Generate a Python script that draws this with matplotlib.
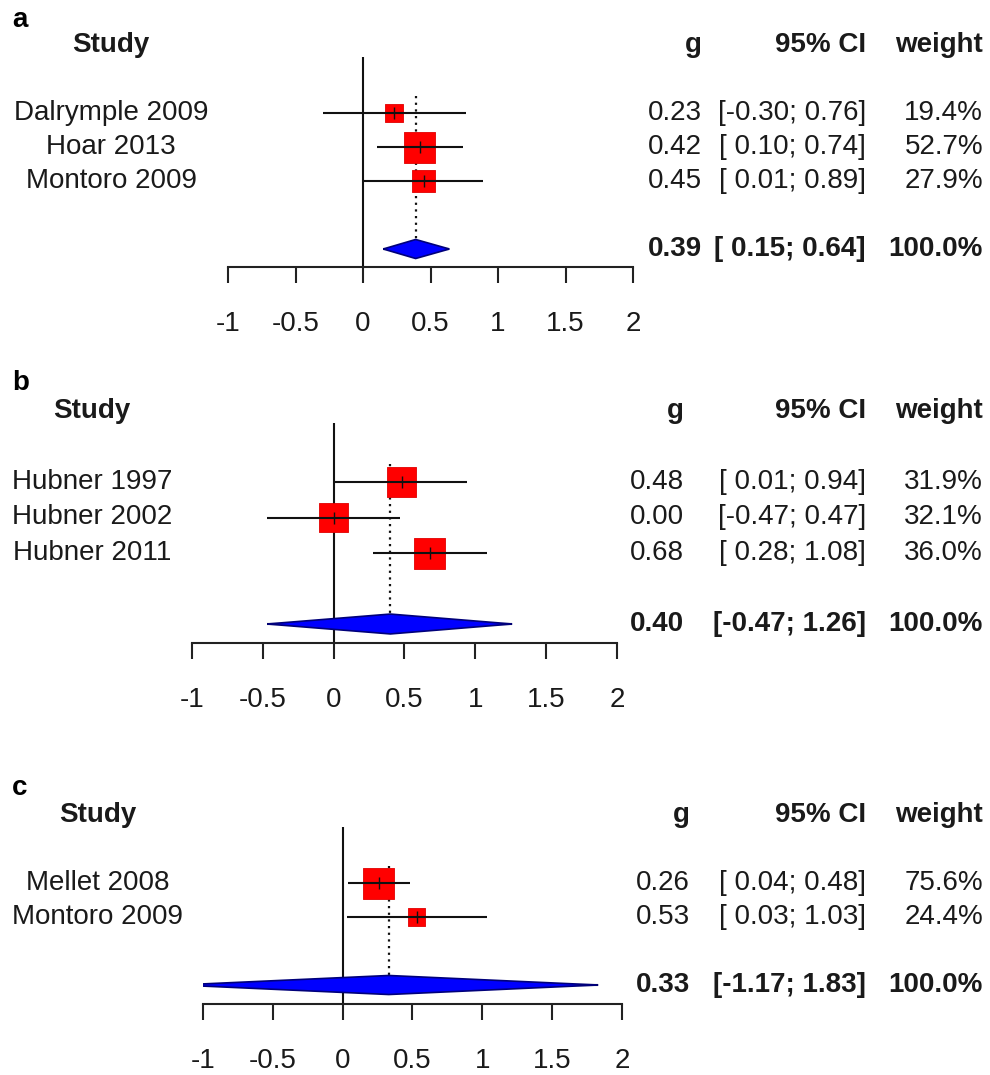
import matplotlib
matplotlib.use("Agg")
import matplotlib.pyplot as plt
from matplotlib.transforms import blended_transform_factory
from matplotlib.patches import Polygon
import numpy as np

plt.rcParams['font.family'] = ['Liberation Sans', 'DejaVu Sans']

# ---------------- data ----------------
a_studies = ["Dalrymple 2009", "Hoar 2013", "Montoro 2009"]
a_g = [0.23, 0.42, 0.45]
a_lo = [-0.30, 0.10, 0.01]
a_hi = [0.76, 0.74, 0.89]
a_w = [19.4, 52.7, 27.9]
a_sum = [0.39, 0.15, 0.64]

b_studies = ["Hubner 1997", "Hubner 2002", "Hubner 2011"]
b_g = [0.48, 0.00, 0.68]
b_lo = [0.01, -0.47, 0.28]
b_hi = [0.94, 0.47, 1.08]
b_w = [31.9, 32.1, 36.0]
b_sum = [0.40, -0.47, 1.26]

c_studies = ["Mellet 2008", "Montoro 2009"]
c_g = [0.26, 0.53]
c_lo = [0.04, 0.03]
c_hi = [0.48, 1.03]
c_w = [75.6, 24.4]
c_sum = [0.33, -1.17, 1.83]

tick_vals = [-1, -0.5, 0, 0.5, 1, 1.5, 2]
tick_labels = ["-1", "-0.5", "0", "0.5", "1", "1.5", "2"]
col_headers = ["Study", "g", "95% CI", "weight"]
panel_letters = ["a", "b", "c"]

# ---------------- layout ----------------
W, H = 990, 1075
fig = plt.figure(figsize=(W / 100, H / 100), dpi=100)
PX2PT = 0.72

panels = [
    dict(letter=panel_letters[0], studies=a_studies, g=a_g, lo=a_lo, hi=a_hi, w=a_w, s=a_sum,
         x0=228, x1=633, row1=113, sp=34.0, axis=267, letter_y=20, lab_x=111,
         g_x=702, ci_x=866, w_x=983),
    dict(letter=panel_letters[1], studies=b_studies, g=b_g, lo=b_lo, hi=b_hi, w=b_w, s=b_sum,
         x0=192, x1=617, row1=482, sp=35.5, axis=643, letter_y=383, lab_x=92,
         g_x=684, ci_x=866, w_x=983),
    dict(letter=panel_letters[2], studies=c_studies, g=c_g, lo=c_lo, hi=c_hi, w=c_w, s=c_sum,
         x0=203, x1=622, row1=883, sp=34.0, axis=1004, letter_y=788, lab_x=98,
         g_x=690, ci_x=866, w_x=983),
]

FS = 20
TXT = '#1a1a1a'
SQ_MAX_PX = 31

for P in panels:
    sp = P['sp']
    top_px = P['row1'] - 1.65 * sp
    left = P['x0'] / W
    width = (P['x1'] - P['x0']) / W
    bottom = 1 - P['axis'] / H
    height = (P['axis'] - top_px) / H
    ax = fig.add_axes([left, bottom, width, height])
    top_row = 1 + (top_px - P['row1']) / sp
    axis_row = 1 + (P['axis'] - P['row1']) / sp
    ax.set_xlim(-1, 2)
    ax.set_ylim(axis_row, top_row)
    for side in ['top', 'right', 'left']:
        ax.spines[side].set_visible(False)
    ax.spines['bottom'].set_linewidth(1.5)
    ax.spines['bottom'].set_color('#222222')
    ax.set_yticks([])
    ax.set_xticks(tick_vals)
    ax.set_xticklabels(tick_labels, fontsize=FS, color=TXT)
    ax.tick_params(axis='x', length=16 * PX2PT, width=1.5, color='#222222', pad=20)
    ax.patch.set_alpha(0)

    n = len(P['studies'])
    rows = np.arange(1, n + 1)
    srow = n + 2
    est, slo, shi = P['s']
    dh = 0.28

    # zero line
    ax.axvline(0, color='#111111', lw=1.5, zorder=1)
    # dotted summary line
    ax.plot([est, est], [0.5, srow - dh], color='#111111', lw=1.6, ls=(0, (1, 2)), zorder=2)

    # squares
    wmax = max(P['w'])
    sides = [SQ_MAX_PX * np.sqrt(wi / wmax) * PX2PT for wi in P['w']]
    ax.scatter(P['g'], rows, marker='s', s=[sd ** 2 for sd in sides], color='#ff0000',
               edgecolors='#e00000', linewidths=0.6, zorder=3)
    # CI lines
    ax.hlines(rows, P['lo'], P['hi'], color='#111111', lw=1.5, zorder=4)
    ax.plot(P['g'], rows, ls='none', marker='|', ms=9, mew=1.0, color='#111111', zorder=5)

    # summary line + diamond
    ax.hlines([srow], [slo], [shi], color='#111111', lw=1.5, zorder=3)
    dia = Polygon([[slo, srow], [est, srow - dh], [shi, srow], [est, srow + dh]],
                  closed=True, facecolor='#0000ff', edgecolor='#00007a', lw=1.2, zorder=4)
    ax.add_patch(dia)

    # text columns
    tr = blended_transform_factory(fig.transFigure, ax.transData)
    hrow = -1.0
    ax.text(P['lab_x'] / W, hrow, col_headers[0], transform=tr, ha='center', va='center',
            fontsize=FS, fontweight='bold', color=TXT, clip_on=False)
    ax.text(P['g_x'] / W, hrow, col_headers[1], transform=tr, ha='right', va='center',
            fontsize=FS, fontweight='bold', color=TXT, clip_on=False)
    ax.text(P['ci_x'] / W, hrow, col_headers[2], transform=tr, ha='right', va='center',
            fontsize=FS, fontweight='bold', color=TXT, clip_on=False)
    ax.text(P['w_x'] / W, hrow, col_headers[3], transform=tr, ha='right', va='center',
            fontsize=FS, fontweight='bold', color=TXT, clip_on=False)

    for r, name, gi, lo, hi, wi in zip(rows, P['studies'], P['g'], P['lo'], P['hi'], P['w']):
        ax.text(P['lab_x'] / W, r, name, transform=tr, ha='center', va='center',
                fontsize=FS, color=TXT, clip_on=False)
        ax.text(P['g_x'] / W, r, f"{gi:.2f}", transform=tr, ha='right', va='center',
                fontsize=FS, color=TXT, clip_on=False)
        ax.text(P['ci_x'] / W, r, f"[{lo:5.2f}; {hi:.2f}]", transform=tr, ha='right',
                va='center', fontsize=FS, color=TXT, clip_on=False)
        ax.text(P['w_x'] / W, r, f"{wi:.1f}%", transform=tr, ha='right', va='center',
                fontsize=FS, color=TXT, clip_on=False)

    ax.text(P['g_x'] / W, srow, f"{est:.2f}", transform=tr, ha='right', va='center',
            fontsize=FS, fontweight='bold', color=TXT, clip_on=False)
    ax.text(P['ci_x'] / W, srow, f"[{slo:5.2f}; {shi:.2f}]", transform=tr, ha='right',
            va='center', fontsize=FS, fontweight='bold', color=TXT, clip_on=False)
    ax.text(P['w_x'] / W, srow, f"{sum(P['w']):.1f}%", transform=tr, ha='right',
            va='center', fontsize=FS, fontweight='bold', color=TXT, clip_on=False)

    fig.text(12 / W, 1 - P['letter_y'] / H, P['letter'], ha='left', va='center',
             fontsize=FS, fontweight='bold', color='black')

fig.savefig("out.png", dpi=100, facecolor='white')
